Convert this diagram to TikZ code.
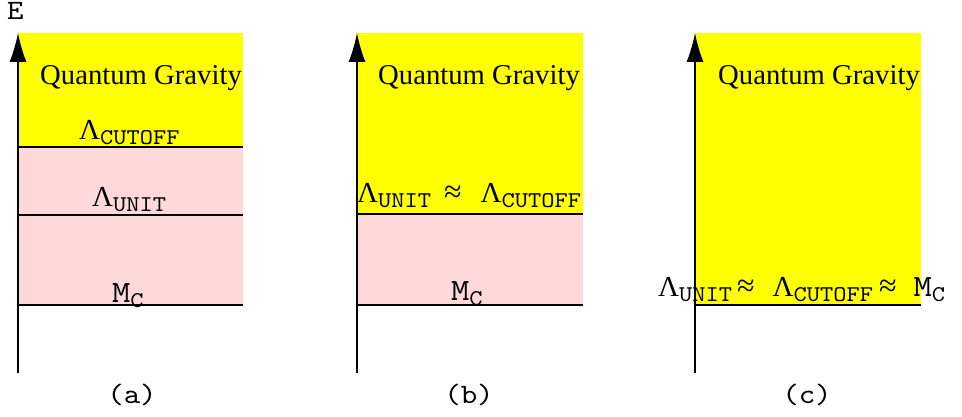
\documentclass[tikz,border=0pt]{standalone}
\usepackage{fontspec}
\setmainfont{Liberation Serif}
\setmonofont{lmmono10-regular.otf}[FakeStretch=1.12]
\usetikzlibrary{arrows.meta}
\definecolor{qg}{HTML}{FFFF00}
\definecolor{eft}{HTML}{FFD9D9}
\tikzset{
  axis/.style={line width=1.4pt,-{Latex[length=29pt,width=17pt]}},
  level/.style={line width=1.1pt},
  lbl/.style={inner sep=0pt,anchor=base west},
  qgtext/.style={lbl,font=\fontsize{28.7}{30}\selectfont},
  panelcap/.style={inner sep=0pt,anchor=base,font=\ttfamily\fontsize{28}{30}\selectfont}
}
\newcommand{\Lam}[1]{{\fontsize{29}{30}\selectfont Λ}{\ttfamily\fontsize{22.5}{22}\selectfont\raisebox{-5pt}{#1}}}
\newcommand{\Mc}{{\ttfamily\fontsize{31}{30}\selectfont M}{\ttfamily\fontsize{22.5}{22}\selectfont\raisebox{-5pt}{C}}}
\newcommand{\apx}{{\fontsize{32}{32}\selectfont ≈}}

\begin{document}
\begin{tikzpicture}[x=1pt,y=-1pt]
\useasboundingbox (0,0) rectangle (962,417);
\node[lbl,font=\ttfamily\fontsize{28}{30}\selectfont] (E) at (7,20) {E};
% (a)
\fill[qg] (18,33) rectangle (243,147);
\fill[eft] (18,147) rectangle (243,305);
\draw[level] (18,147) -- (243,147) (18,215) -- (243,215) (18,305) -- (243,305);
\node[qgtext] (qga) at (40,85) {Quantum Gravity};
\node[lbl] (cuta) at (79,140) {\Lam{CUTOFF}};
\node[lbl] (unita) at (92,207) {\Lam{UNIT}};
\node[lbl] (mca) at (112,302) {\Mc};
\coordinate (a0) at (18,373); \coordinate (a1) at (18,33);
\draw[axis] (a0) -- (a1);
\node[panelcap] (capa) at (132,403) {(a)};
% (b)
\fill[qg] (357,33) rectangle (583,214);
\fill[eft] (357,214) rectangle (583,305);
\draw[level] (357,214) -- (583,214) (357,305) -- (583,305);
\node[qgtext] (qgb) at (378,85) {Quantum Gravity};
\node[lbl] (unitb) at (357,203) {\Lam{UNIT}\hspace{13pt}\apx\hspace{19pt}\Lam{CUTOFF}};
\node[lbl] (mcb) at (451,300) {\Mc};
\coordinate (b0) at (357,373); \coordinate (b1) at (357,33);
\draw[axis] (b0) -- (b1);
\node[panelcap] (capb) at (469,403) {(b)};
% (c)
\fill[qg] (695,33) rectangle (921,305);
\draw[level] (695,305) -- (921,305);
\node[qgtext] (qgc) at (718,85) {Quantum Gravity};
\node[lbl] (unitc) at (658,296) {\Lam{UNIT}\hspace{5pt}\apx\hspace{18pt}\Lam{CUTOFF}\hspace{6pt}\apx\hspace{17pt}\Mc};
\coordinate (c0) at (695,373); \coordinate (c1) at (695,33);
\draw[axis] (c0) -- (c1);
\node[panelcap] (capc) at (807,403) {(c)};
\end{tikzpicture}
\end{document}
